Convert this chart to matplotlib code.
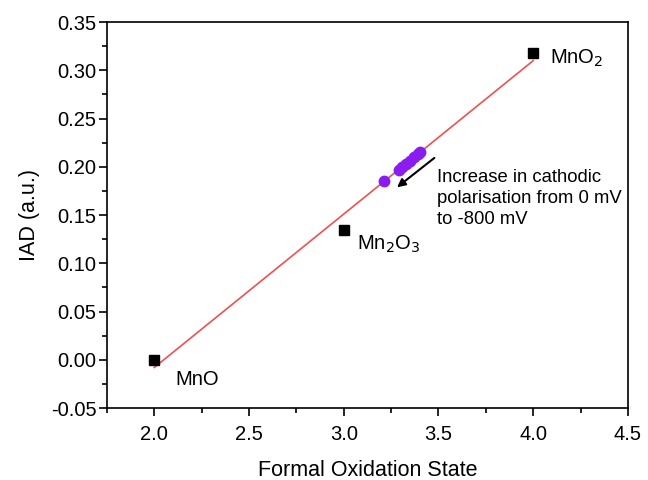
import numpy as np
import matplotlib.pyplot as plt
from matplotlib.ticker import MultipleLocator

plt.rcParams['font.family'] = ['Liberation Sans', 'DejaVu Sans']

# reference oxides
ox_state = [2.0, 3.0, 4.0]
ox_iad = [0.0, 0.135, 0.318]
ox_names = ['MnO', 'Mn$_2$O$_3$', 'MnO$_2$']

# linear fit end points
fit_x = [2.0, 4.0]
fit_y = [-0.008, 0.310]

# samples under cathodic polarisation
samp_x = [3.215, 3.29, 3.31, 3.33, 3.35, 3.37, 3.39, 3.40]
samp_y = [0.185, 0.197, 0.200, 0.203, 0.206, 0.210, 0.213, 0.215]

fig = plt.figure(figsize=(6.48, 4.8), dpi=100)
ax = fig.add_axes([0.165, 0.15, 0.804, 0.804])

ax.plot(fit_x, fit_y, color='#f05050', lw=1.2)
ax.plot(ox_state, ox_iad, 's', color='black', ms=6.5, ls='none')
ax.plot(samp_x, samp_y, 'o', color='#8a1cf0', ms=7.5, ls='none')

ax.text(2.11, -0.026, ox_names[0], fontsize=14.5)
ax.text(3.07, 0.114, ox_names[1], fontsize=14.5)
ax.text(4.09, 0.307, ox_names[2], fontsize=14.5)

ax.annotate('', xy=(3.27, 0.177), xytext=(3.49, 0.211),
            arrowprops=dict(arrowstyle='-|>', color='black', lw=1.5, mutation_scale=12))
ax.text(3.49, 0.198, 'Increase in cathodic\npolarisation from 0 mV\nto -800 mV',
        fontsize=13.3, va='top', linespacing=1.3)

ax.set_xlim(1.75, 4.5)
ax.set_ylim(-0.05, 0.35)
ax.xaxis.set_major_locator(MultipleLocator(0.5))
ax.xaxis.set_minor_locator(MultipleLocator(0.25))
ax.yaxis.set_major_locator(MultipleLocator(0.05))
ax.yaxis.set_minor_locator(MultipleLocator(0.025))
ax.xaxis.set_major_formatter(plt.FormatStrFormatter('%.1f'))
ax.yaxis.set_major_formatter(plt.FormatStrFormatter('%.2f'))
ax.tick_params(which='both', direction='out', width=1.2)
ax.tick_params(which='major', length=6, labelsize=14.5)
ax.tick_params(which='minor', length=3.5)
ax.tick_params(axis='x', which='major', pad=6)
ax.tick_params(axis='y', which='major', pad=1.5)
for s in ax.spines.values():
    s.set_linewidth(1.2)

ax.set_xlabel('Formal Oxidation State', fontsize=15.5, labelpad=12)
ax.set_ylabel('IAD (a.u.)', fontsize=15.5, labelpad=8)

fig.savefig('out.png', dpi=100)
